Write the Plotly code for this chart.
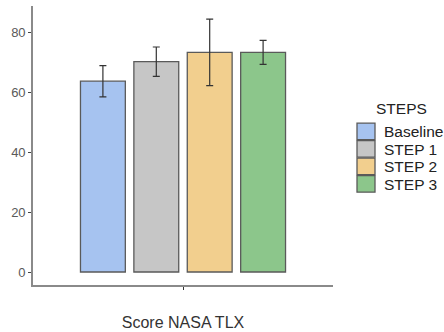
import plotly.graph_objects as go

# NASA TLX score per step: mean and error (half-range)
steps = ["Baseline", "STEP 1", "STEP 2", "STEP 3"]
means = [63.6, 70.1, 73.2, 73.2]
errors = [5.2, 4.9, 11.1, 4.0]
colors = ["#a6c3f0", "#c6c6c6", "#f2cf8e", "#8cc68b"]
measure = "Score NASA TLX"
y_ticks = [0, 20, 40, 60, 80]

W, H = 444, 332
M = dict(l=33, r=111, t=6, b=47)
PW = W - M["l"] - M["r"]
PH = H - M["t"] - M["b"]
FONT = "Liberation Sans, Arial, sans-serif"


def px_x(px):
    return (px - M["l"]) / PW


def px_y(py):
    return (H - M["b"] - py) / PH


fig = go.Figure()
for name, m, e, c in zip(steps, means, errors, colors):
    fig.add_trace(go.Bar(
        x=[measure], y=[m], name=name,
        marker=dict(color=c, line=dict(color="#5a5a5a", width=1.3)),
        error_y=dict(type="data", array=[e], color="#333333",
                     thickness=1.2, width=3.5),
        showlegend=False,
    ))

# legend: filled keys with labels, under a centred title
shapes, annots = [], []
key_x0, key_w, row_top, row_h = 357, 18, 122.7, 17.5
for i, (name, c) in enumerate(zip(steps, colors)):
    y0 = row_top + i * row_h
    shapes.append(dict(type="rect", xref="paper", yref="paper",
                       x0=px_x(key_x0), x1=px_x(key_x0 + key_w),
                       y0=px_y(y0 + row_h - 0.5), y1=px_y(y0 + 0.5),
                       fillcolor=c, line=dict(color="#5a5a5a", width=1.3)))
    annots.append(dict(xref="paper", yref="paper", x=px_x(382),
                       y=px_y(y0 + row_h / 2 + 0.5), text=name,
                       showarrow=False, xanchor="left", yanchor="middle",
                       font=dict(family=FONT, size=15.5, color="#222222")))
annots.append(dict(xref="paper", yref="paper", x=px_x(401.5), y=px_y(108),
                   text="STEPS", showarrow=False, xanchor="center",
                   yanchor="middle",
                   font=dict(family=FONT, size=15.5, color="#222222")))

fig.update_layout(
    width=W, height=H, margin=M,
    paper_bgcolor="white", plot_bgcolor="white",
    barmode="group", bargap=0.288, bargroupgap=0.16,
    font=dict(family=FONT),
    shapes=shapes, annotations=annots,
    showlegend=False,
)
fig.update_xaxes(
    type="category", range=[-0.5, 0.5],
    showline=True, linecolor="#8a8a8a", linewidth=1.6,
    ticks="outside", ticklen=3, tickcolor="#333333", tickwidth=1,
    showticklabels=False, showgrid=False, zeroline=False,
    title=dict(text=measure, standoff=28,
               font=dict(family=FONT, size=16, color="#333333")),
)
fig.update_yaxes(
    range=[-4.33, 88.67], tickvals=y_ticks,
    showline=True, linecolor="#8a8a8a", linewidth=1.6,
    ticks="outside", ticklen=3, tickcolor="#444444", tickwidth=1,
    tickfont=dict(family=FONT, size=13, color="#5a5a5a"),
    showgrid=False, zeroline=False,
)

fig.write_html("out.html")
